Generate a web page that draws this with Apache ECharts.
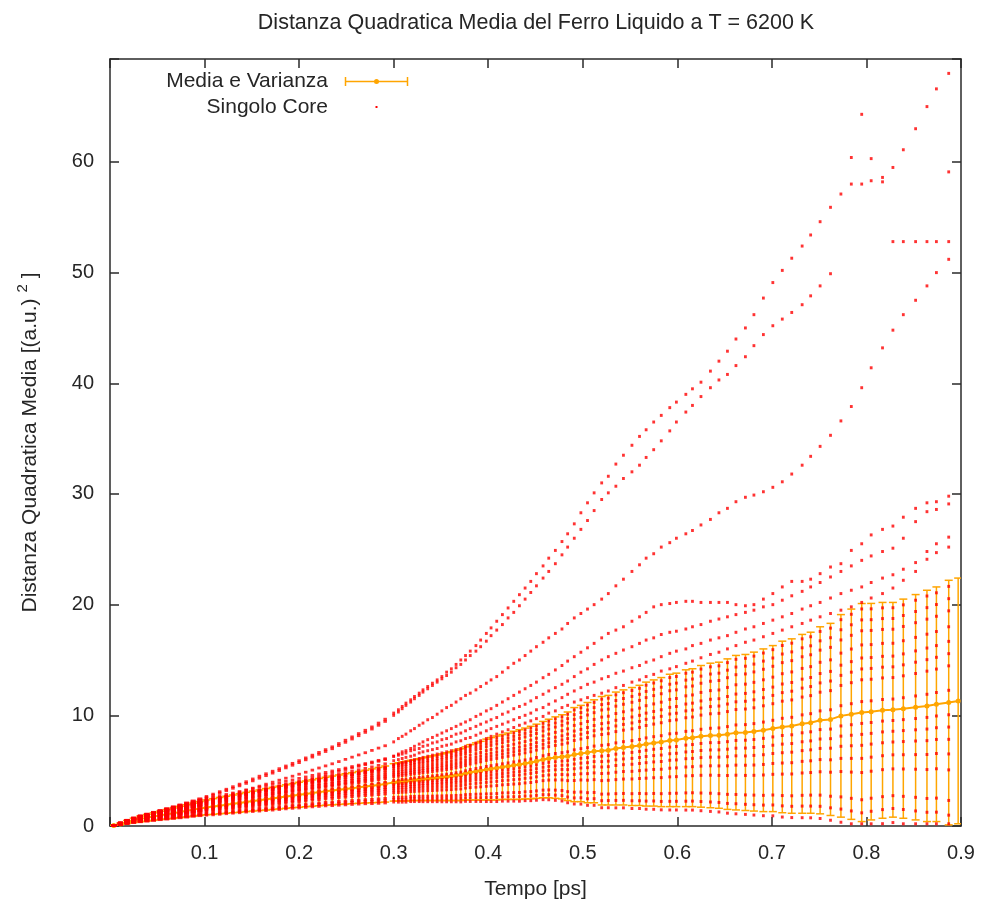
<!DOCTYPE html>
<html>
<head>
<meta charset="utf-8">
<script src="https://cdn.jsdelivr.net/npm/echarts/dist/echarts.min.js"></script>
<style>
html,body{margin:0;padding:0;background:#fff;}
#chart{width:985px;height:911px;}
</style>
</head>
<body>
<div id="chart"></div>
<script>
// ---------------- DATA ----------------
const chartTitle = 'Distanza Quadratica Media del Ferro Liquido a T = 6200 K';
const xName = 'Tempo [ps]';
const legendMean = 'Media e Varianza';
const legendCore = 'Singolo Core';
const xTicks = [0.1, 0.2, 0.3, 0.4, 0.5, 0.6, 0.7, 0.8, 0.9];
const yTicks = [0, 10, 20, 30, 40, 50, 60];

// sampling times [ps]
const times = [
0.004,0.011,0.018,0.025,0.032,0.039,0.046,0.053,0.060,0.067,0.074,0.081,0.088,0.095,0.102,0.109,0.116,0.123,0.130,0.137,0.144,
0.151,0.158,0.165,0.172,0.179,0.186,0.193,0.200,0.207,0.214,0.221,0.228,0.235,0.242,0.249,0.256,0.263,0.270,0.277,0.284,0.291,
0.300,0.305,0.309,0.313,0.318,0.322,0.327,0.331,0.336,0.341,0.346,0.351,0.356,0.361,0.366,0.371,0.376,0.381,0.387,0.392,
0.398,0.403,0.409,0.415,0.421,0.427,0.433,0.439,0.445,0.451,0.458,0.464,0.471,0.478,0.484,0.491,0.498,0.505,0.512,0.520,
0.527,0.535,0.543,0.552,0.560,0.567,0.575,0.583,0.592,0.599,0.609,0.616,0.625,0.635,0.644,0.653,0.662,0.672,0.681,0.691,
0.701,0.711,0.721,0.732,0.741,0.751,0.762,0.773,0.784,0.795,0.805,0.817,0.828,0.839,0.852,0.864,0.874,0.887,0.897
];

// mean MSD and its spread (Media e Varianza)
const meanMSD = [
0.05,0.19,0.36,0.51,0.64,0.74,0.85,0.96,1.06,1.16,1.27,1.37,1.48,1.58,1.68,1.76,1.84,1.92,2.00,2.08,2.17,
2.25,2.33,2.41,2.49,2.57,2.66,2.74,2.82,2.90,2.98,3.06,3.14,3.21,3.28,3.35,3.42,3.49,3.56,3.63,3.71,3.79,
3.94,3.98,4.02,4.05,4.12,4.15,4.19,4.23,4.27,4.32,4.36,4.41,4.46,4.51,4.58,4.64,4.75,4.85,4.93,5.00,
5.10,5.17,5.24,5.33,5.40,5.48,5.55,5.65,5.73,5.85,6.00,6.10,6.18,6.25,6.30,6.45,6.55,6.63,6.75,6.80,
6.85,7.00,7.10,7.18,7.28,7.40,7.50,7.58,7.73,7.78,7.93,7.98,8.10,8.18,8.20,8.30,8.43,8.45,8.53,8.65,
8.80,8.95,9.03,9.23,9.33,9.55,9.63,9.95,10.10,10.25,10.33,10.45,10.50,10.60,10.73,10.85,11.00,11.15,11.30
];
const spreadMSD = [
0.02,0.08,0.14,0.20,0.26,0.30,0.34,0.38,0.43,0.47,0.51,0.55,0.59,0.63,0.67,0.71,0.74,0.77,0.80,0.84,0.87,
0.90,0.93,0.97,1.00,1.03,1.06,1.09,1.13,1.16,1.19,1.23,1.26,1.30,1.33,1.37,1.40,1.44,1.48,1.53,1.58,1.63,
1.69,1.73,1.77,1.80,1.82,1.85,1.89,1.93,1.97,2.02,2.06,2.11,2.16,2.21,2.28,2.34,2.40,2.50,2.58,2.65,
2.75,2.82,2.89,2.93,3.00,3.08,3.15,3.20,3.28,3.35,3.45,3.55,3.68,3.80,4.00,4.25,4.35,4.53,4.65,4.90,
4.95,5.10,5.20,5.33,5.43,5.60,5.70,5.83,5.98,6.03,6.18,6.23,6.40,6.53,6.60,6.80,6.98,7.05,7.18,7.35,
7.50,7.75,7.88,8.08,8.18,8.45,8.68,9.15,9.50,9.85,9.78,9.75,9.70,9.90,10.18,10.45,10.60,11.05,11.10
];

// single-core trajectories (Singolo Core)
const coreA = [
0.06,0.28,0.5,0.7,0.88,1.05,1.22,1.4,1.57,1.75,1.92,2.1,2.28,2.47,2.67,2.88,3.1,3.32,3.55,3.78,4.0,
4.25,4.5,4.72,4.95,5.18,5.42,5.66,5.9,6.15,6.4,6.65,6.9,7.15,7.45,7.75,8.05,8.35,8.65,8.95,9.3,9.65,
10.2,10.5,10.8,11.1,11.4,11.7,12.0,12.3,12.6,12.9,13.2,13.5,13.9,14.2,14.6,15.0,15.4,15.8,16.3,16.8,
17.4,17.9,18.5,19.1,19.7,20.3,20.9,21.5,22.1,22.8,23.5,24.2,24.9,25.7,26.4,27.3,28.3,29.2,30.1,31.0,
31.6,32.7,33.5,34.4,35.2,35.8,36.5,37.1,37.8,38.3,39.0,39.5,40.1,41.1,42.0,42.9,44.0,45.0,46.2,47.7,
49.1,50.2,51.3,52.4,53.4,54.6,55.9,57.1,58.0,58.0,58.3,58.6,59.5,61.1,63.0,65.0,66.6,68.0,null
];
const coreB = [
0.06,0.27,0.48,0.68,0.85,1.02,1.18,1.35,1.52,1.69,1.86,2.03,2.2,2.38,2.57,2.77,2.98,3.19,3.41,3.63,3.85,
4.08,4.32,4.55,4.78,5.01,5.25,5.49,5.73,5.98,6.23,6.48,6.73,6.98,7.27,7.56,7.86,8.16,8.46,8.76,9.1,9.45,
10.0,10.3,10.6,10.9,11.2,11.5,11.8,12.1,12.4,12.7,13.0,13.3,13.6,13.9,14.3,14.6,15.0,15.4,15.8,16.2,
16.7,17.2,17.7,18.2,18.8,19.3,19.9,20.5,21.1,21.7,22.4,23.0,23.7,24.5,25.2,26.0,26.8,27.6,28.5,29.5,
30.1,30.7,31.4,32.0,32.6,33.3,34.0,34.8,35.7,36.5,37.4,38.0,38.8,39.6,40.3,40.8,41.6,42.4,43.4,44.4,
45.2,45.8,46.4,47.1,47.9,48.8,49.9,null,null,null,null,null,52.8,52.8,52.8,52.8,52.8,52.8,null
];
const coreD = [
0.05,0.25,0.45,0.62,0.78,0.92,1.06,1.2,1.35,1.5,1.65,1.8,1.95,2.1,2.25,2.4,2.55,2.72,2.9,3.07,3.25,
3.42,3.6,3.78,3.96,4.14,4.32,4.5,4.68,4.86,5.05,5.24,5.43,5.62,5.82,6.02,6.22,6.42,6.62,6.83,7.04,7.25,
7.6,7.9,8.1,8.3,8.6,8.8,9.1,9.3,9.6,9.8,10.1,10.4,10.7,10.9,11.2,11.5,11.8,12.0,12.3,12.6,
12.9,13.2,13.5,13.9,14.3,14.7,15.0,15.4,15.8,16.2,16.6,17.0,17.4,17.8,18.3,18.8,19.2,19.6,20.0,20.5,
21.0,21.7,22.3,23.0,23.6,24.2,24.6,25.2,25.6,26.0,26.4,26.7,27.2,27.7,28.3,28.7,29.3,29.7,29.9,30.2,
30.6,31.1,31.8,32.6,33.4,34.3,35.3,36.6,37.9,39.6,41.4,43.2,44.8,46.2,47.5,48.8,50.0,51.2,null
];
const coreG = [
0.05,0.22,0.4,0.55,0.7,0.83,0.96,1.09,1.22,1.35,1.48,1.61,1.74,1.87,2.0,2.13,2.27,2.41,2.55,2.7,2.85,
3.0,3.15,3.3,3.45,3.6,3.75,3.9,4.05,4.2,4.35,4.5,4.65,4.8,4.95,5.1,5.25,5.4,5.55,5.7,5.85,6.0,
6.3,6.5,6.7,6.8,7.0,7.2,7.4,7.6,7.8,8.0,8.2,8.4,8.6,8.8,9.0,9.2,9.4,9.6,9.9,10.1,
10.4,10.6,10.9,11.2,11.5,11.8,12.1,12.4,12.7,13.0,13.4,13.7,14.1,14.5,14.9,15.3,15.7,16.1,16.5,17.0,
17.4,17.7,18.0,18.5,18.9,19.3,19.8,20.0,20.1,20.2,20.3,20.3,20.2,20.2,20.2,20.2,20.0,19.9,20.0,20.5,
21.0,21.6,22.1,22.1,22.3,22.8,23.4,23.7,24.9,25.5,26.3,26.8,27.1,27.9,28.7,29.2,29.3,29.8,null
];
const coreH = [
0.07,0.28,0.53,0.75,0.94,1.09,1.25,1.41,1.56,1.71,1.87,2.02,2.18,2.33,2.48,2.6,2.73,2.85,2.98,3.1,3.24,
3.37,3.5,3.63,3.76,3.89,4.03,4.16,4.3,4.43,4.57,4.7,4.84,4.97,5.1,5.23,5.37,5.5,5.64,5.78,5.93,6.08,
6.3,6.4,6.5,6.6,6.8,6.9,7.0,7.2,7.3,7.5,7.6,7.8,7.9,8.1,8.3,8.4,8.6,8.8,9.0,9.2,
9.4,9.6,9.8,10.1,10.3,10.6,10.8,11.0,11.3,11.6,11.9,12.2,12.5,12.8,13.1,13.5,13.9,14.2,14.6,15.0,
15.3,15.6,15.9,16.2,16.5,16.8,17.0,17.3,17.5,17.6,17.8,18.0,18.2,18.5,18.7,18.9,19.1,19.3,19.5,19.8,
20.0,20.4,20.8,21.2,21.6,22.0,22.5,23.0,23.5,24.0,24.4,24.8,25.1,26.0,27.5,28.4,28.6,29.1,null
];
const coreI = [
0.06,0.27,0.5,0.71,0.89,1.03,1.18,1.33,1.47,1.62,1.76,1.9,2.05,2.19,2.33,2.45,2.57,2.68,2.8,2.92,3.04,
3.15,3.27,3.38,3.5,3.62,3.74,3.86,3.98,4.1,4.22,4.34,4.46,4.58,4.7,4.82,4.95,5.08,5.21,5.34,5.48,5.62,
5.9,6.0,6.1,6.2,6.3,6.4,6.6,6.7,6.8,6.9,7.0,7.2,7.3,7.4,7.6,7.7,7.9,8.0,8.2,8.4,
8.6,8.8,9.0,9.2,9.4,9.6,9.8,10.0,10.2,10.5,10.7,11.0,11.3,11.6,11.9,12.2,12.5,12.8,13.0,13.3,
13.5,13.8,14.0,14.3,14.5,14.8,15.0,15.3,15.6,15.8,16.0,16.3,16.5,16.8,17.0,17.2,17.5,17.8,18.0,18.3,
18.6,18.9,19.2,19.6,19.9,20.2,20.6,21.0,21.3,21.6,22.0,22.4,22.7,23.2,23.8,24.8,25.5,26.1,null
];
const coreJ = [
0.06,0.26,0.48,0.68,0.85,0.99,1.13,1.27,1.41,1.55,1.69,1.82,1.96,2.09,2.22,2.33,2.44,2.55,2.66,2.77,2.88,
2.99,3.1,3.2,3.31,3.42,3.53,3.64,3.75,3.86,3.97,4.08,4.19,4.3,4.41,4.52,4.64,4.76,4.88,5.0,5.12,5.25,
5.5,5.6,5.7,5.8,5.9,6.0,6.1,6.2,6.3,6.4,6.5,6.6,6.7,6.8,6.9,7.0,7.2,7.3,7.5,7.7,
7.9,8.1,8.3,8.5,8.7,8.9,9.1,9.3,9.5,9.7,9.9,10.2,10.4,10.7,10.9,11.2,11.4,11.6,11.8,12.0,
12.2,12.5,12.7,13.0,13.2,13.5,13.7,14.0,14.2,14.4,14.7,14.9,15.2,15.5,15.7,16.0,16.3,16.6,16.8,17.1,
17.4,17.7,18.0,18.3,18.6,18.9,19.2,19.5,19.8,20.2,20.6,21.0,21.5,22.2,23.0,24.1,24.7,25.2,null
];
const core01 = [
0.03,0.11,0.21,0.30,0.37,0.43,0.49,0.56,0.61,0.67,0.73,0.79,0.86,0.92,0.98,1.01,1.06,1.11,1.16,1.20,1.26,
1.31,1.35,1.39,1.44,1.49,1.55,1.60,1.63,1.68,1.73,1.77,1.82,1.84,1.88,1.91,1.95,1.98,2.01,2.02,2.05,2.08,
2.17,2.16,2.16,2.16,2.21,2.21,2.21,2.20,2.20,2.20,2.20,2.19,2.19,2.19,2.19,2.18,2.23,2.22,2.22,2.22,
2.21,2.21,2.21,2.25,2.25,2.25,2.24,2.29,2.29,2.33,2.38,2.37,2.32,2.26,2.10,1.99,1.98,1.87,1.87,1.65,
1.65,1.64,1.64,1.58,1.58,1.52,1.51,1.46,1.45,1.45,1.44,1.44,1.38,1.32,1.27,1.16,1.10,1.05,0.99,0.93,
0.92,0.81,0.76,0.75,0.74,0.68,0.52,0.34,0.2,0.2,0.2,0.21,0.31,0.20,0.2,0.2,0.2,0.2,null
];
const core02 = [
0.03,0.13,0.25,0.35,0.43,0.50,0.58,0.66,0.72,0.78,0.86,0.93,1.01,1.08,1.14,1.19,1.25,1.30,1.36,1.41,1.47,
1.53,1.59,1.63,1.69,1.75,1.81,1.87,1.92,1.97,2.03,2.08,2.13,2.17,2.22,2.25,2.30,2.34,2.38,2.41,2.45,2.49,
2.59,2.60,2.60,2.61,2.66,2.67,2.68,2.69,2.69,2.70,2.71,2.72,2.73,2.74,2.76,2.77,2.83,2.85,2.87,2.88,
2.90,2.91,2.93,2.99,3.00,3.02,3.03,3.09,3.11,3.17,3.24,3.26,3.24,3.21,3.10,3.05,3.07,3.01,3.03,2.88,
2.89,2.92,2.94,2.92,2.94,2.92,2.94,2.92,2.95,2.96,2.99,3.00,2.98,2.96,2.92,2.86,2.85,2.81,2.79,2.77,
2.80,2.75,2.73,2.77,2.79,2.79,2.69,2.63,2.50,2.37,2.51,2.65,2.74,2.68,2.59,2.49,2.52,2.31,null
];
const core03 = [
0.04,0.15,0.28,0.40,0.50,0.58,0.66,0.75,0.82,0.90,0.99,1.07,1.16,1.23,1.31,1.37,1.43,1.50,1.56,1.62,1.69,
1.75,1.82,1.88,1.94,2.00,2.08,2.14,2.20,2.26,2.33,2.38,2.45,2.49,2.55,2.60,2.65,2.70,2.75,2.79,2.84,2.89,
3.01,3.03,3.05,3.06,3.12,3.13,3.15,3.17,3.19,3.21,3.23,3.25,3.27,3.29,3.33,3.35,3.43,3.47,3.51,3.54,
3.59,3.62,3.65,3.72,3.75,3.79,3.82,3.89,3.93,4.01,4.10,4.15,4.16,4.16,4.10,4.11,4.16,4.14,4.19,4.10,
4.13,4.19,4.24,4.25,4.29,4.32,4.36,4.37,4.44,4.46,4.53,4.55,4.58,4.59,4.57,4.56,4.59,4.57,4.58,4.61,
4.67,4.69,4.70,4.79,4.83,4.90,4.86,4.92,4.87,4.83,4.95,5.09,5.16,5.15,5.13,5.10,5.17,5.07,null
];
const core04 = [
0.04,0.17,0.32,0.45,0.56,0.65,0.75,0.85,0.93,1.02,1.12,1.21,1.30,1.39,1.48,1.55,1.62,1.69,1.76,1.83,1.91,
1.98,2.05,2.12,2.19,2.26,2.34,2.41,2.48,2.55,2.62,2.69,2.76,2.82,2.88,2.94,3.00,3.06,3.12,3.17,3.24,3.30,
3.43,3.46,3.49,3.51,3.57,3.59,3.62,3.65,3.68,3.71,3.74,3.78,3.81,3.85,3.90,3.94,4.03,4.10,4.16,4.20,
4.27,4.32,4.37,4.45,4.50,4.56,4.60,4.69,4.75,4.84,4.96,5.03,5.08,5.11,5.10,5.17,5.24,5.27,5.35,5.33,
5.36,5.47,5.54,5.58,5.65,5.72,5.79,5.83,5.94,5.97,6.08,6.11,6.18,6.22,6.22,6.26,6.34,6.33,6.38,6.44,
6.55,6.62,6.67,6.81,6.88,7.01,7.03,7.20,7.25,7.29,7.40,7.52,7.59,7.63,7.68,7.71,7.82,7.83,null
];
const core05 = [
0.05,0.18,0.35,0.49,0.61,0.71,0.82,0.92,1.02,1.11,1.22,1.32,1.42,1.52,1.61,1.69,1.77,1.84,1.92,2.00,2.08,
2.16,2.24,2.31,2.39,2.47,2.55,2.63,2.71,2.78,2.86,2.94,3.01,3.08,3.15,3.21,3.28,3.35,3.41,3.48,3.55,3.63,
3.77,3.81,3.84,3.87,3.94,3.97,4.00,4.04,4.07,4.12,4.15,4.20,4.24,4.29,4.35,4.41,4.51,4.60,4.67,4.74,
4.83,4.89,4.95,5.04,5.10,5.17,5.24,5.33,5.40,5.52,5.66,5.75,5.81,5.87,5.90,6.03,6.12,6.18,6.29,6.31,
6.36,6.49,6.58,6.65,6.74,6.84,6.93,7.00,7.13,7.18,7.31,7.36,7.46,7.53,7.54,7.62,7.73,7.75,7.81,7.92,
8.05,8.18,8.24,8.42,8.51,8.71,8.76,9.04,9.15,9.27,9.35,9.48,9.53,9.61,9.71,9.81,9.94,10.05,null
];
const core06 = [
0.05,0.20,0.37,0.53,0.67,0.77,0.88,1.00,1.10,1.21,1.32,1.42,1.54,1.64,1.75,1.83,1.91,2.00,2.08,2.16,2.26,
2.34,2.42,2.51,2.59,2.67,2.77,2.85,2.93,3.02,3.10,3.18,3.27,3.34,3.41,3.49,3.56,3.63,3.71,3.78,3.87,3.95,
4.11,4.15,4.20,4.23,4.30,4.34,4.38,4.42,4.47,4.52,4.57,4.62,4.68,4.73,4.81,4.87,4.99,5.10,5.19,5.27,
5.38,5.45,5.53,5.62,5.70,5.79,5.87,5.97,6.06,6.19,6.35,6.46,6.55,6.63,6.70,6.88,6.99,7.08,7.22,7.29,
7.35,7.51,7.62,7.71,7.82,7.96,8.07,8.16,8.33,8.38,8.55,8.60,8.74,8.83,8.86,8.98,9.13,9.16,9.25,9.39,
9.55,9.73,9.82,10.04,10.15,10.40,10.50,10.87,11.05,11.24,11.31,11.43,11.47,11.59,11.75,11.90,12.06,12.26,null
];
const core07 = [
0.06,0.21,0.40,0.57,0.72,0.83,0.95,1.07,1.19,1.30,1.42,1.54,1.66,1.77,1.88,1.97,2.06,2.15,2.24,2.33,2.43,
2.52,2.61,2.70,2.79,2.88,2.98,3.07,3.16,3.25,3.34,3.43,3.52,3.60,3.68,3.76,3.84,3.92,4.00,4.09,4.18,4.28,
4.45,4.50,4.55,4.59,4.67,4.71,4.76,4.81,4.86,4.93,4.98,5.04,5.11,5.17,5.26,5.34,5.47,5.60,5.70,5.80,
5.93,6.02,6.11,6.21,6.30,6.40,6.50,6.61,6.71,6.86,7.04,7.17,7.28,7.39,7.50,7.73,7.86,7.99,8.15,8.27,
8.34,8.53,8.66,8.78,8.91,9.08,9.21,9.33,9.52,9.59,9.78,9.85,10.02,10.14,10.18,10.34,10.52,10.57,10.68,10.86,
11.05,11.28,11.39,11.65,11.78,12.09,12.23,12.70,12.95,13.21,13.26,13.38,13.41,13.57,13.78,13.99,14.18,14.47,null
];
const core08 = [
0.06,0.23,0.43,0.61,0.77,0.89,1.02,1.15,1.28,1.40,1.53,1.65,1.78,1.90,2.02,2.12,2.21,2.31,2.40,2.50,2.61,
2.70,2.80,2.90,2.99,3.09,3.19,3.29,3.39,3.48,3.58,3.68,3.77,3.86,3.95,4.04,4.12,4.21,4.30,4.40,4.50,4.61,
4.79,4.85,4.91,4.95,5.03,5.08,5.14,5.20,5.26,5.33,5.39,5.47,5.54,5.62,5.72,5.81,5.95,6.10,6.22,6.33,
6.48,6.58,6.69,6.80,6.90,7.02,7.13,7.25,7.37,7.53,7.73,7.88,8.02,8.15,8.30,8.58,8.73,8.90,9.08,9.25,
9.33,9.55,9.70,9.85,10.00,10.20,10.35,10.50,10.72,10.80,11.02,11.10,11.30,11.45,11.50,11.70,11.92,11.98,12.12,12.33,
12.55,12.83,12.97,13.27,13.42,13.78,13.97,14.53,14.85,15.18,15.22,15.33,15.35,15.55,15.82,16.08,16.30,16.68,null
];
const core09 = [
0.07,0.25,0.47,0.66,0.84,0.97,1.11,1.25,1.38,1.51,1.65,1.78,1.92,2.05,2.18,2.29,2.40,2.50,2.60,2.71,2.82,
2.93,3.03,3.14,3.24,3.34,3.46,3.56,3.67,3.77,3.87,3.98,4.09,4.19,4.28,4.38,4.47,4.57,4.67,4.78,4.90,5.01,
5.21,5.28,5.35,5.40,5.49,5.54,5.61,5.68,5.75,5.84,5.91,5.99,6.08,6.17,6.29,6.40,6.55,6.73,6.87,6.99,
7.16,7.29,7.41,7.53,7.65,7.79,7.91,8.05,8.19,8.36,8.59,8.76,8.94,9.10,9.30,9.64,9.81,10.03,10.24,10.48,
10.56,10.83,11.00,11.18,11.35,11.60,11.78,11.95,12.22,12.30,12.57,12.65,12.90,13.08,13.15,13.40,13.67,13.74,13.92,14.16,
14.43,14.76,14.94,15.29,15.47,15.89,16.14,16.81,17.23,17.64,17.67,17.76,17.78,18.03,18.37,18.69,18.95,19.44,null
];
const core10 = [
0.07,0.27,0.49,0.70,0.89,1.03,1.17,1.32,1.47,1.61,1.75,1.89,2.04,2.18,2.32,2.43,2.54,2.65,2.76,2.88,3.00,
3.11,3.21,3.33,3.44,3.55,3.67,3.78,3.89,4.00,4.11,4.23,4.34,4.45,4.54,4.65,4.75,4.86,4.97,5.08,5.21,5.34,
5.55,5.62,5.70,5.76,5.85,5.91,5.99,6.06,6.14,6.24,6.32,6.41,6.51,6.61,6.75,6.86,7.03,7.23,7.38,7.52,
7.71,7.85,7.99,8.11,8.25,8.41,8.54,8.69,8.85,9.03,9.28,9.47,9.68,9.86,10.10,10.49,10.68,10.93,11.17,11.46,
11.55,11.85,12.04,12.24,12.44,12.72,12.92,13.12,13.41,13.51,13.80,13.90,14.18,14.38,14.47,14.76,15.06,15.15,15.35,15.63,
15.93,16.31,16.52,16.91,17.10,17.58,17.88,18.64,19.13,19.61,19.62,19.71,19.72,19.98,20.40,20.78,21.07,21.65,null
];
const core11 = [
0.03,0.12,0.23,0.33,0.40,0.46,0.54,0.61,0.66,0.73,0.80,0.86,0.94,1.00,1.06,1.11,1.16,1.21,1.26,1.31,1.37,
1.42,1.47,1.52,1.57,1.62,1.68,1.74,1.78,1.83,1.89,1.93,1.98,2.01,2.06,2.09,2.13,2.17,2.20,2.22,2.26,2.29,
2.39,2.39,2.39,2.39,2.45,2.45,2.45,2.45,2.46,2.46,2.46,2.47,2.47,2.48,2.48,2.49,2.54,2.55,2.56,2.56,
2.57,2.58,2.58,2.63,2.64,2.65,2.65,2.71,2.71,2.77,2.83,2.83,2.79,2.75,2.62,2.54,2.55,2.46,2.47,2.29,
2.30,2.31,2.32,2.28,2.28,2.25,2.26,2.22,2.23,2.23,2.24,2.25,2.21,2.17,2.13,2.04,2.01,1.96,1.92,1.89,
1.90,1.82,1.78,1.80,1.80,1.78,1.64,1.53,1.36,1.19,1.33,1.48,1.58,1.49,1.36,1.24,1.25,0.98,null
];
const core12 = [
0.04,0.16,0.30,0.43,0.53,0.61,0.71,0.80,0.88,0.96,1.06,1.14,1.23,1.32,1.40,1.46,1.53,1.60,1.66,1.73,1.80,
1.87,1.94,2.00,2.07,2.14,2.22,2.28,2.35,2.41,2.48,2.54,2.61,2.66,2.72,2.78,2.83,2.89,2.94,2.99,3.05,3.11,
3.23,3.25,3.28,3.29,3.36,3.37,3.40,3.42,3.44,3.47,3.49,3.52,3.55,3.58,3.62,3.66,3.74,3.80,3.85,3.89,
3.94,3.99,4.03,4.10,4.14,4.19,4.23,4.31,4.35,4.44,4.55,4.61,4.63,4.65,4.62,4.66,4.72,4.73,4.80,4.74,
4.77,4.86,4.92,4.94,5.00,5.05,5.11,5.13,5.22,5.25,5.33,5.36,5.41,5.44,5.43,5.44,5.50,5.49,5.51,5.56,
5.65,5.69,5.72,5.84,5.89,6.00,5.98,6.11,6.11,6.11,6.22,6.35,6.43,6.44,6.45,6.46,6.55,6.51,null
];
const core13 = [
0.05,0.17,0.33,0.47,0.59,0.68,0.78,0.88,0.97,1.07,1.17,1.26,1.36,1.45,1.55,1.62,1.69,1.77,1.84,1.91,2.00,
2.07,2.14,2.22,2.29,2.36,2.45,2.52,2.59,2.67,2.74,2.81,2.89,2.95,3.01,3.08,3.14,3.20,3.26,3.32,3.39,3.46,
3.60,3.63,3.67,3.69,3.76,3.78,3.81,3.84,3.88,3.92,3.95,3.99,4.03,4.07,4.12,4.17,4.27,4.35,4.41,4.47,
4.55,4.61,4.66,4.74,4.80,4.86,4.92,5.01,5.07,5.18,5.31,5.39,5.44,5.49,5.50,5.60,5.68,5.72,5.82,5.82,
5.86,5.98,6.06,6.11,6.19,6.28,6.36,6.41,6.53,6.57,6.69,6.73,6.82,6.87,6.88,6.94,7.03,7.04,7.09,7.18,
7.30,7.40,7.45,7.61,7.69,7.86,7.89,8.12,8.20,8.28,8.37,8.50,8.56,8.62,8.69,8.76,8.88,8.94,null
];
const core14 = [
0.06,0.22,0.42,0.59,0.74,0.86,0.99,1.11,1.23,1.35,1.47,1.59,1.72,1.83,1.95,2.04,2.14,2.23,2.32,2.42,2.52,
2.61,2.70,2.80,2.89,2.98,3.08,3.18,3.27,3.36,3.46,3.55,3.64,3.73,3.81,3.90,3.98,4.07,4.15,4.24,4.34,4.44,
4.62,4.67,4.73,4.77,4.85,4.89,4.95,5.00,5.06,5.13,5.18,5.25,5.32,5.39,5.49,5.58,5.71,5.85,5.96,6.06,
6.20,6.30,6.40,6.50,6.60,6.71,6.81,6.93,7.04,7.19,7.38,7.52,7.65,7.77,7.90,8.15,8.29,8.44,8.61,8.76,
8.83,9.04,9.18,9.31,9.45,9.64,9.78,9.91,10.12,10.19,10.40,10.47,10.66,10.79,10.84,11.02,11.22,11.27,11.40,11.59,
11.80,12.05,12.18,12.46,12.60,12.93,13.10,13.61,13.90,14.19,14.24,14.35,14.38,14.56,14.80,15.03,15.24,15.57,null
];
const core15 = [
0.06,0.24,0.45,0.63,0.80,0.93,1.06,1.20,1.33,1.45,1.59,1.71,1.85,1.97,2.10,2.20,2.30,2.40,2.50,2.60,2.71,
2.81,2.91,3.01,3.11,3.21,3.32,3.42,3.52,3.62,3.72,3.82,3.92,4.02,4.11,4.20,4.29,4.38,4.48,4.58,4.69,4.80,
4.99,5.05,5.12,5.17,5.25,5.30,5.36,5.43,5.49,5.57,5.64,5.72,5.80,5.88,5.99,6.09,6.24,6.40,6.53,6.64,
6.81,6.92,7.03,7.15,7.26,7.39,7.50,7.63,7.76,7.93,8.14,8.30,8.46,8.61,8.78,9.09,9.25,9.44,9.63,9.84,
9.92,10.16,10.32,10.48,10.65,10.87,11.03,11.19,11.44,11.52,11.76,11.84,12.07,12.23,12.29,12.52,12.76,12.82,12.98,13.21,
13.45,13.76,13.92,14.24,14.40,14.79,15.01,15.62,15.99,16.36,16.39,16.50,16.51,16.74,17.04,17.33,17.57,18.00,null
];
const core16 = [
0.07,0.26,0.48,0.68,0.86,1.00,1.14,1.28,1.43,1.56,1.70,1.84,1.98,2.12,2.25,2.36,2.47,2.58,2.68,2.79,2.91,
3.02,3.12,3.24,3.34,3.45,3.56,3.67,3.78,3.89,3.99,4.11,4.21,4.32,4.41,4.52,4.61,4.71,4.82,4.93,5.05,5.18,
5.38,5.45,5.52,5.58,5.67,5.72,5.80,5.87,5.94,6.04,6.11,6.20,6.30,6.39,6.52,6.63,6.79,6.98,7.12,7.25,
7.44,7.57,7.70,7.82,7.95,8.10,8.23,8.37,8.52,8.70,8.93,9.12,9.31,9.48,9.70,10.06,10.25,10.48,10.70,10.97,
11.06,11.34,11.52,11.71,11.90,12.16,12.35,12.54,12.81,12.91,13.18,13.28,13.54,13.73,13.81,14.08,14.36,14.44,14.63,14.90,
15.18,15.54,15.73,16.10,16.28,16.73,17.01,17.73,18.18,18.62,18.64,18.74,18.75,19.02,19.38,19.73,20.01,20.54,null
];
// a core that leaves the top trajectory near the end
const coreEtimes = [0.784, 0.795, 0.805, 0.817, 0.887];
const coreEvalues = [60.4, 64.3, 60.3, 58.2, 59.1];

// ---------------- BUILD ----------------
const FONT = '"Liberation Sans", Arial, Helvetica, sans-serif';
const TXT = '#262626';
const ORANGE = '#ffa500';
const RED = '#ff0000';

const cores = [coreA, coreB, coreD, coreG, coreH, coreI, coreJ,
  core01, core02, core03, core04, core05, core06, core07, core08,
  core09, core10, core11, core12, core13, core14, core15, core16];
const corePoints = [];
cores.forEach(c => {
  for (let i = 0; i < times.length; i++) {
    const v = c[i];
    if (v !== null && v !== undefined) corePoints.push([times[i], v]);
  }
});
coreEtimes.forEach((t, i) => corePoints.push([t, coreEvalues[i]]));

const errData = times.map((t, i) => [t, meanMSD[i] - spreadMSD[i], meanMSD[i] + spreadMSD[i]]);
const meanData = times.map((t, i) => [t, meanMSD[i]]);

const axisLineStyle = { color: '#2a2a2a', width: 1.5 };
const labelStyle = { fontFamily: FONT, fontSize: 20, color: TXT };

const chart = echarts.init(document.getElementById('chart'), null, { renderer: 'canvas' });
chart.setOption({
  animation: false,
  backgroundColor: '#ffffff',
  title: {
    text: chartTitle,
    left: 531, top: 7, textAlign: 'center',
    textStyle: { fontFamily: FONT, fontSize: 21.5, fontWeight: 'normal', color: TXT }
  },
  grid: { left: 110, right: 24, top: 59, bottom: 85, containLabel: false },
  xAxis: [
    {
      type: 'value', min: 0, max: 0.9, interval: 0.1, position: 'bottom',
      name: xName, nameLocation: 'middle', nameGap: 53,
      nameTextStyle: { fontFamily: FONT, fontSize: 21, color: TXT },
      axisLine: { show: true, onZero: false, lineStyle: axisLineStyle },
      axisTick: { show: true, inside: true, length: 9, lineStyle: axisLineStyle },
      axisLabel: Object.assign({ margin: 17,
        formatter: v => { const k = xTicks.find(t => Math.abs(t - v) < 1e-6); return k === undefined ? '' : k.toFixed(1); } }, labelStyle),
      splitLine: { show: false }
    },
    {
      type: 'value', min: 0, max: 0.9, interval: 0.1, position: 'top',
      axisLine: { show: true, onZero: false, lineStyle: axisLineStyle },
      axisTick: { show: true, inside: true, length: 9, lineStyle: axisLineStyle },
      axisLabel: { show: false }, splitLine: { show: false }
    }
  ],
  yAxis: [
    {
      type: 'value', min: 0, max: 69.3, interval: 10, position: 'left',
      name: 'Distanza Quadratica Media [(a.u.){sup|2} ]',
      nameLocation: 'middle', nameGap: 65, nameRotate: 90,
      nameTextStyle: { fontFamily: FONT, fontSize: 21, color: TXT, lineHeight: 30,
        rich: { sup: { fontFamily: FONT, fontSize: 15, color: TXT, verticalAlign: 'top', lineHeight: 15, padding: [0, 0, 0, 6] } } },
      axisLine: { show: true, onZero: false, lineStyle: axisLineStyle },
      axisTick: { show: true, inside: true, length: 9, lineStyle: axisLineStyle },
      axisLabel: Object.assign({ margin: 16,
        formatter: v => (yTicks.indexOf(v) >= 0 ? String(v) : '') }, labelStyle),
      splitLine: { show: false }
    },
    {
      type: 'value', min: 0, max: 69.3, interval: 10, position: 'right',
      axisLine: { show: true, onZero: false, lineStyle: axisLineStyle },
      axisTick: { show: true, inside: true, length: 9, lineStyle: axisLineStyle },
      axisLabel: { show: false }, splitLine: { show: false }
    }
  ],
  series: [
    {
      name: legendMean, type: 'custom', xAxisIndex: 0, yAxisIndex: 0, clip: true, z: 2,
      data: errData, encode: { x: 0, y: [1, 2] },
      renderItem: function (params, api) {
        const x = api.value(0);
        const lo = api.coord([x, api.value(1)]);
        const hi = api.coord([x, api.value(2)]);
        const hw = 4;
        const st = { stroke: ORANGE, lineWidth: 1.5, fill: null };
        return {
          type: 'group', children: [
            { type: 'line', shape: { x1: lo[0], y1: lo[1], x2: hi[0], y2: hi[1] }, style: st },
            { type: 'line', shape: { x1: lo[0] - hw, y1: lo[1], x2: lo[0] + hw, y2: lo[1] }, style: st },
            { type: 'line', shape: { x1: hi[0] - hw, y1: hi[1], x2: hi[0] + hw, y2: hi[1] }, style: st }
          ]
        };
      }
    },
    {
      name: legendMean, type: 'line', xAxisIndex: 0, yAxisIndex: 0, z: 3,
      data: meanData, symbol: 'circle', symbolSize: 5, showSymbol: true,
      lineStyle: { color: ORANGE, width: 2 }, itemStyle: { color: ORANGE },
      silent: true
    },
    {
      name: legendCore, type: 'scatter', xAxisIndex: 0, yAxisIndex: 0, z: 4,
      data: corePoints, symbol: 'rect',
      symbolSize: function (val) { return val[0] < 0.1 ? [5, 2.5] : (val[0] < 0.3 ? [3.5, 2.8] : [2.8, 3]); },
      itemStyle: { color: RED }, silent: true
    }
  ],
  graphic: [
    { type: 'text', x: 328, y: 81, z: 10,
      style: { text: legendMean, align: 'right', verticalAlign: 'middle', textAlign: 'right', textVerticalAlign: 'middle',
        font: '21px ' + FONT, fill: TXT } },
    { type: 'line', z: 10, shape: { x1: 345.5, y1: 81.5, x2: 407.5, y2: 81.5 }, style: { stroke: ORANGE, lineWidth: 1.5 } },
    { type: 'line', z: 10, shape: { x1: 345.5, y1: 77, x2: 345.5, y2: 86 }, style: { stroke: ORANGE, lineWidth: 1.5 } },
    { type: 'line', z: 10, shape: { x1: 407.5, y1: 77, x2: 407.5, y2: 86 }, style: { stroke: ORANGE, lineWidth: 1.5 } },
    { type: 'circle', z: 10, shape: { cx: 376.5, cy: 81.5, r: 2.5 }, style: { fill: ORANGE } },
    { type: 'text', x: 328, y: 107, z: 10,
      style: { text: legendCore, align: 'right', verticalAlign: 'middle', textAlign: 'right', textVerticalAlign: 'middle',
        font: '21px ' + FONT, fill: TXT } },
    { type: 'rect', z: 10, shape: { x: 375.5, y: 106, width: 2, height: 2 }, style: { fill: RED } }
  ]
});
</script>
</body>
</html>
